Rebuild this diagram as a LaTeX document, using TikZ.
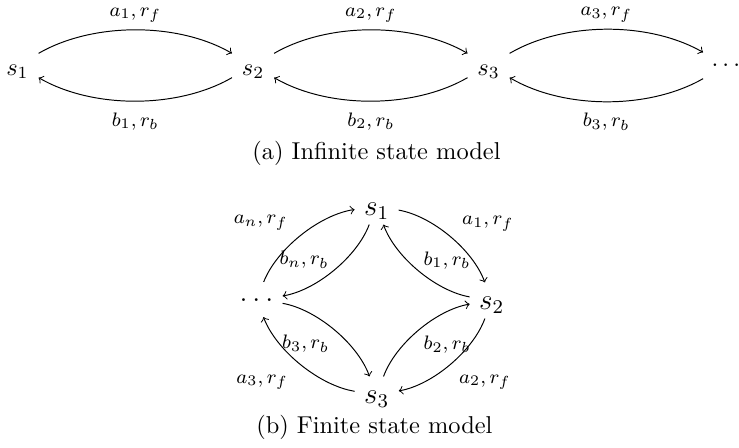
\documentclass[tikz,border=0pt]{standalone}
\usetikzlibrary{positioning}
\begin{document}
\begin{tikzpicture}[x=0.41pt,y=0.41pt,
  st/.style={inner xsep=3.85pt,inner ysep=3.33pt,text height=9pt,text depth=1.2pt},
  dt/.style={inner xsep=3.33pt,inner ysep=3.33pt,text height=5pt,text depth=4pt},
  bst/.style={font=\large,inner xsep=3.7pt,inner ysep=1.7pt,text height=9pt,text depth=2pt},
  bdt/.style={font=\large,inner xsep=3.6pt,inner ysep=1.7pt,text height=6pt,text depth=4.6pt},
  lab/.style={font=\footnotesize,inner sep=2pt},
  arc/.style={->,bend left,looseness=0.83},
  barc/.style={->,bend left,looseness=0.78},
  node distance=79.3pt]
\useasboundingbox (0,0) rectangle (739,447);

\node[st] (s1) at (17.5,381.5) {$s_1$};
\node[st,right=of s1] (s2) {$s_2$};
\node[st,right=of s2] (s3) {$s_3$};
\node[dt,right=of s3] (sd) {$\ldots$};

\draw (s1) edge[arc] node[lab,above,inner sep=2.8pt] (a1) {$a_1,r_f$} (s2);
\draw (s2) edge[arc] node[lab,below,inner sep=4.5pt] (b1) {$b_1,r_b$} (s1);
\draw (s2) edge[arc] node[lab,above,inner sep=2.8pt] (a2) {$a_2,r_f$} (s3);
\draw (s3) edge[arc] node[lab,below,inner sep=4.5pt] (b2) {$b_2,r_b$} (s2);
\draw (s3) edge[arc] node[lab,above,inner sep=2.8pt] (a3) {$a_3,r_f$} (sd);
\draw (sd) edge[arc] node[lab,below,inner sep=4.5pt] (b3) {$b_3,r_b$} (s3);

\node[anchor=base] (capa) at (376.5,288) {(a) Infinite state model};

\node[bst] (f1) at (376.6,240.5) {$s_1$};
\node[bst] (f2) at (491.7,146.5) {$s_2$};
\node[bst] (f3) at (376.7,52.5) {$s_3$};
\node[bdt] (fd) at (256.5,147.5) {$\ldots$};

\draw (f1) edge[barc] node[lab,above right,xshift=2.8pt] (fa1) {$a_1,r_f$} (f2);
\draw (f2) edge[barc] node[lab,above right,yshift=-1.5pt] (fb1) {$b_1,r_b$} (f1);
\draw (f2) edge[barc] node[lab,below right,xshift=1.5pt,yshift=-2pt] (fa2) {$a_2,r_f$} (f3);
\draw (f3) edge[barc] node[lab,below right] (fb2) {$b_2,r_b$} (f2);
\draw (f3) edge[barc] node[lab,below left,xshift=-3pt,yshift=-2pt] (fa3) {$a_3,r_f$} (fd);
\draw (fd) edge[barc] node[lab,below left] (fb3) {$b_3,r_b$} (f3);
\draw (fd) edge[barc] node[lab,above left,xshift=-3.2pt] (fan) {$a_n,r_f$} (f1);
\draw (f1) edge[barc] node[lab,above left,yshift=-1.5pt] (fbn) {$b_n,r_b$} (fd);

\node[anchor=base] (capb) at (374.4,13.7) {(b) Finite state model};
\end{tikzpicture}
\end{document}
